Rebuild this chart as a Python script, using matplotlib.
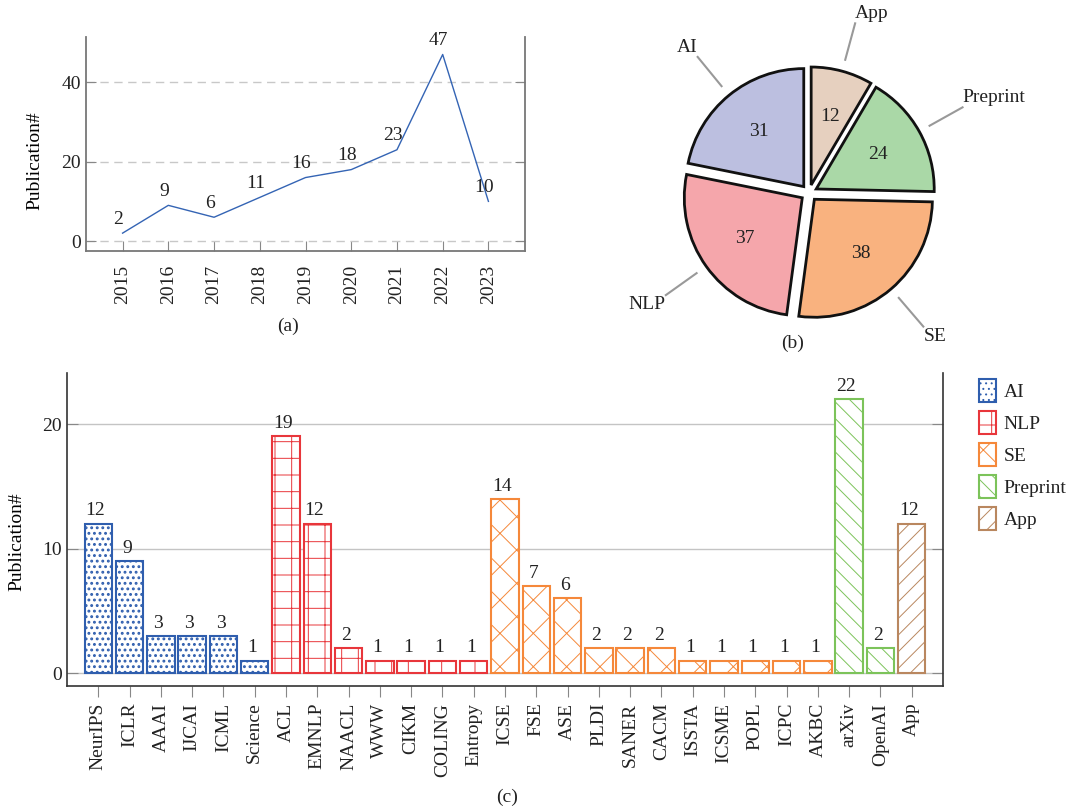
import matplotlib
matplotlib.use('Agg')
import matplotlib.pyplot as plt
import numpy as np

plt.rcParams['font.family'] = ['Liberation Serif', 'DejaVu Serif']
plt.rcParams['font.size'] = 14
plt.rcParams['text.color'] = '#222222'
plt.rcParams['xtick.color'] = '#888888'
plt.rcParams['ytick.color'] = '#888888'
plt.rcParams['xtick.labelcolor'] = '#222222'
plt.rcParams['ytick.labelcolor'] = '#222222'
plt.rcParams['hatch.linewidth'] = 0.7

# (a) publications per year
years = [2015, 2016, 2017, 2018, 2019, 2020, 2021, 2022, 2023]
year_pubs = [2, 9, 6, 11, 16, 18, 23, 47, 10]

# (b) categories
cats = ['App', 'Preprint', 'SE', 'NLP', 'AI']
cat_counts = [12, 24, 38, 37, 31]
cat_colors = ['#e6d0bf', '#aad8a7', '#f9b27f', '#f5a6ab', '#bcbfe0']

# (c) venues
venues = ['NeurIPS', 'ICLR', 'AAAI', 'IJCAI', 'ICML', 'Science',
          'ACL', 'EMNLP', 'NAACL', 'WWW', 'CIKM', 'COLING', 'Entropy',
          'ICSE', 'FSE', 'ASE', 'PLDI', 'SANER', 'CACM', 'ISSTA', 'ICSME',
          'POPL', 'ICPC', 'AKBC', 'arXiv', 'OpenAI', 'App']
venue_counts = [12, 9, 3, 3, 3, 1,
                19, 12, 2, 1, 1, 1, 1,
                14, 7, 6, 2, 2, 2, 1, 1, 1, 1, 1,
                22, 2, 12]
venue_group = ['AI'] * 6 + ['NLP'] * 7 + ['SE'] * 11 + ['Preprint'] * 2 + ['App']
groups = ['AI', 'NLP', 'SE', 'Preprint', 'App']
group_colors = {'AI': '#2f5eae', 'NLP': '#e8363b', 'SE': '#f5883a',
                'Preprint': '#7cc35a', 'App': '#b9875f'}
group_hatch = {'AI': '...', 'NLP': '+', 'SE': 'x', 'Preprint': '\\\\', 'App': '//'}
group_hlw = {'AI': 1.3, 'NLP': 0.7, 'SE': 0.7, 'Preprint': 0.7, 'App': 0.7}

W, H = 1066, 810
fig = plt.figure(figsize=(W / 100, H / 100), dpi=100)


def box(l, t, r, b):
    return [l / W, 1 - b / H, (r - l) / W, (b - t) / H]


# ---------------- (a) ----------------
ax = fig.add_axes(box(86, 37, 525, 251))
ax.plot(years, year_pubs, color='#3464b4', lw=1.0)
for x, y in zip(years, year_pubs):
    ax.annotate(str(y), (x, y), xytext=(-3, 4), textcoords='offset points',
                ha='center', va='bottom')
ax.set_xlim(2014.2, 2023.8)
ax.set_ylim(-2.5, 51.4)
ax.set_xticks(years)
ax.set_xticklabels([str(y) for y in years], rotation=90)
ax.set_yticks([0, 20, 40])
ax.grid(axis='y', color='#c8c8c8', lw=1.0, ls=(0, (6, 4)))
ax.set_axisbelow(True)
ax.tick_params(axis='x', direction='in', length=7, pad=10)
ax.tick_params(axis='y', direction='in', length=7, left=True, right=True)
ax.spines['top'].set_visible(False)
for s in ['left', 'right', 'bottom']:
    ax.spines[s].set_color('#777777')
    ax.spines[s].set_linewidth(1.3)
ax.set_ylabel('Publication#')
ax.yaxis.set_label_coords(-0.096, 0.42)
fig.text(288 / W, 1 - 326 / H, '(a)', ha='center', va='center')

# ---------------- (b) ----------------
R = 118
pb = fig.add_axes(box(809 - 230, 193 - 230, 809 + 230, 193 + 230))
wedges, texts, autotexts = pb.pie(
    cat_counts, colors=cat_colors, startangle=90, counterclock=False,
    explode=[0.07] * 5, pctdistance=0.6,
    autopct=lambda p: '%d' % round(p * sum(cat_counts) / 100),
    wedgeprops=dict(edgecolor='#111111', linewidth=2),
    textprops=dict(color='#222222'))
for w, name in zip(wedges, cats):
    a = np.deg2rad((w.theta1 + w.theta2) / 2)
    c, s = np.cos(a), np.sin(a)
    pb.plot([1.17 * c, 1.49 * c], [1.17 * s, 1.49 * s], color='#999999', lw=1.5)
    pb.annotate(name, (1.49 * c, 1.49 * s), xytext=(0, 7 * np.sign(s)),
                textcoords='offset points', ha='left' if c > 0 else 'right',
                va='center')
pb.set_xlim(-230 / R, 230 / R)
pb.set_ylim(-230 / R, 230 / R)
pb.set_aspect('equal')
pb.axis('off')
fig.text(793 / W, 1 - 343 / H, '(b)', ha='center', va='center')

# ---------------- (c) ----------------
ac = fig.add_axes(box(67, 373, 943, 686))
xs = np.arange(len(venues))
handles = []
for g in groups:
    idx = [i for i, vg in enumerate(venue_group) if vg == g]
    b = ac.bar(xs[idx], [venue_counts[i] for i in idx], width=0.88,
               facecolor='white', edgecolor=group_colors[g],
               hatch=group_hatch[g], linewidth=1.5, label=g)
    for p in b.patches:
        if hasattr(p, 'set_hatch_linewidth'):
            p.set_hatch_linewidth(group_hlw[g])
    handles.append(b)
for x, v in zip(xs, venue_counts):
    ac.annotate(str(v), (x, v), xytext=(-2, 3), textcoords='offset points',
                ha='center', va='bottom')
ac.set_xlim(-1, len(venues))
ac.set_ylim(-1.04, 24.1)
ac.set_xticks(xs)
ac.set_xticklabels(venues, rotation=90)
ac.set_yticks([0, 10, 20])
ac.grid(axis='y', color='#c4c4c4', lw=1.0)
ac.set_axisbelow(True)
ac.tick_params(axis='x', direction='out', length=8, pad=4)
ac.tick_params(axis='y', direction='in', length=8, left=True, right=True)
ac.spines['top'].set_visible(False)
for s in ['left', 'right', 'bottom']:
    ac.spines[s].set_color('#333333')
    ac.spines[s].set_linewidth(1.2)
ac.set_ylabel('Publication#')
ac.yaxis.set_label_coords(-0.047, 0.46)
fig.legend(handles=handles, labels=groups, loc='upper left',
           bbox_to_anchor=(979 / W, 1 - 379 / H), frameon=False,
           handlelength=0.87, handleheight=1.43, handletextpad=0.4,
           labelspacing=0.47, borderpad=0, borderaxespad=0)
fig.text(507 / W, 1 - 797 / H, '(c)', ha='center', va='center')

fig.savefig('out.png', dpi=100)
